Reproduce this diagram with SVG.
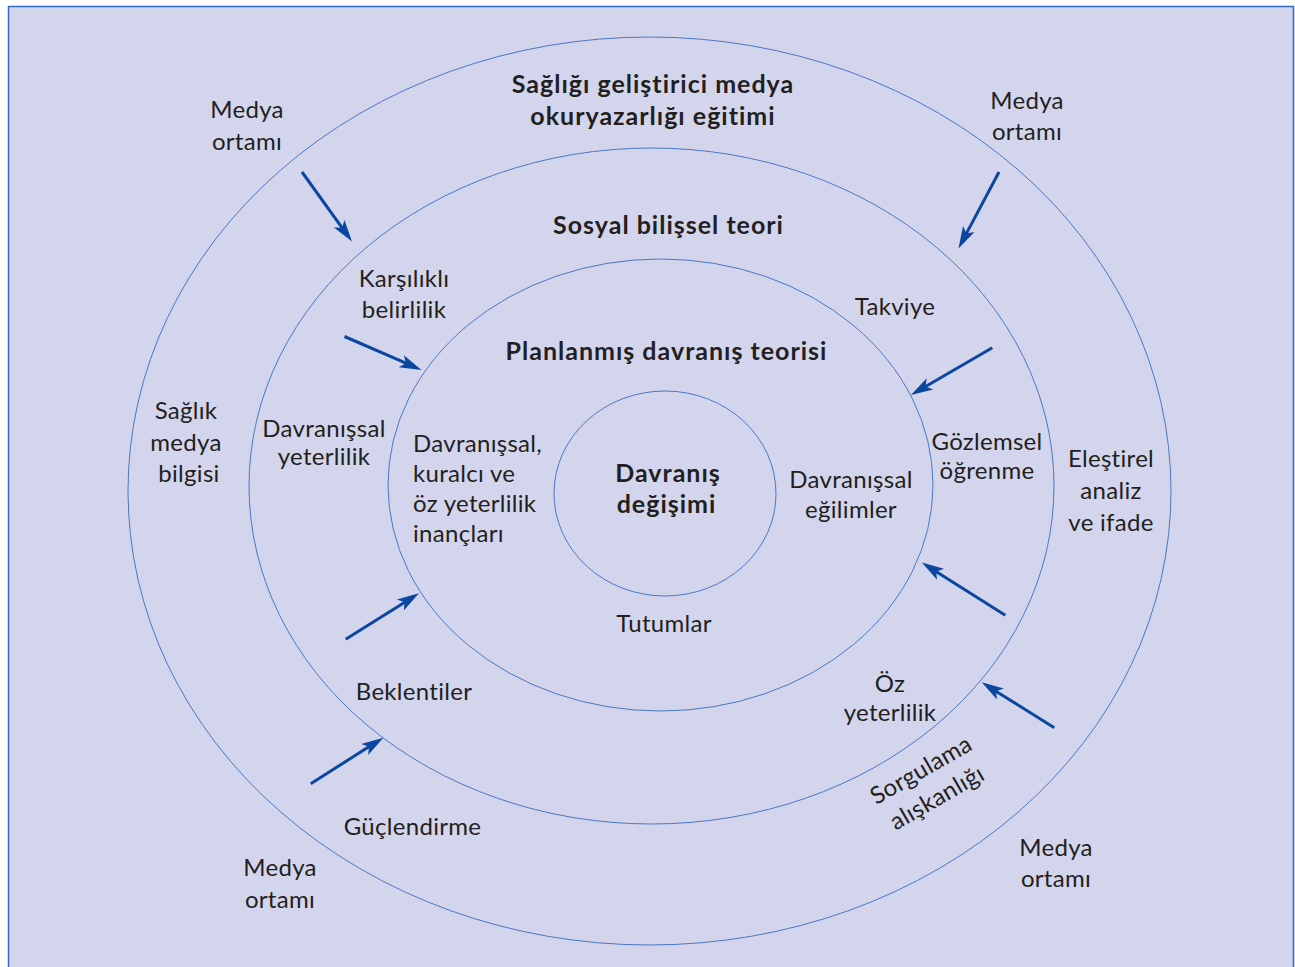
<svg xmlns="http://www.w3.org/2000/svg" width="1295" height="967" viewBox="0 0 1295 967">
<style>
.ring{fill:none;stroke:#4a78c8;stroke-width:1}
.t{font-family:Lato,"Open Sans","Liberation Sans",sans-serif;font-size:24px;letter-spacing:0.3px;fill:#231f20;text-anchor:middle}
.b{font-weight:bold;font-size:25px;letter-spacing:1px}
.l{text-anchor:start}
.arr{stroke:#0b47a1;stroke-width:3;fill:none;marker-end:url(#ah)}
</style>
<defs>
<marker id="ah" markerUnits="userSpaceOnUse" viewBox="-12 -10 26 20" markerWidth="26" markerHeight="20" refX="0" refY="0" orient="auto">
<path d="M12,0 L-10,-6.5 L-5,0 L-10,6.5 Z" fill="#0b47a1"/>
</marker>
</defs>
<rect x="0" y="0" width="1295" height="967" fill="#ffffff"/>
<rect x="8.5" y="6.5" width="1285" height="970" fill="#d3d5ec" stroke="#2f6cc0" stroke-width="1.5"/>
<g id="ring-outer"><ellipse class="ring" cx="649.5" cy="491" rx="521.5" ry="454"/></g>
<g id="ring-sbt"><ellipse class="ring" cx="651.5" cy="486" rx="402.5" ry="338"/></g>
<g id="ring-pdt"><ellipse class="ring" cx="660.5" cy="485" rx="272.5" ry="226"/></g>
<g id="ring-core"><ellipse class="ring" cx="665" cy="493.5" rx="111" ry="102.5"/></g>
<g id="connectors">
<line class="arr" x1="302" y1="172" x2="345" y2="231.8"/>
<line class="arr" x1="999" y1="172" x2="964.1" y2="237.9"/>
<line class="arr" x1="344.5" y1="336.5" x2="410.5" y2="365.2"/>
<line class="arr" x1="992.3" y1="347.7" x2="921.3" y2="389"/>
<line class="arr" x1="1005.3" y1="615.3" x2="932" y2="569"/>
<line class="arr" x1="1054.3" y1="727.7" x2="991.9" y2="688.7"/>
<line class="arr" x1="345.7" y1="639.3" x2="408.8" y2="599.7"/>
<line class="arr" x1="310.7" y1="783.7" x2="373.2" y2="744.1"/>
</g>
<g id="title-outer"><text class="t b" x="653" y="93">Sağlığı geliştirici medya</text><text class="t b" x="653" y="125">okuryazarlığı eğitimi</text></g>
<g id="title-sbt"><text class="t b" x="668.5" y="234">Sosyal bilişsel teori</text></g>
<g id="title-pdt"><text class="t b" x="666.5" y="360">Planlanmış davranış teorisi</text></g>
<g id="core"><text class="t b" x="668" y="482">Davranış</text><text class="t b" x="666.5" y="513">değişimi</text></g>
<g id="medya-tl"><text class="t" x="247" y="118">Medya</text><text class="t" x="247" y="150">ortamı</text></g>
<g id="medya-tr"><text class="t" x="1027" y="109">Medya</text><text class="t" x="1027" y="140">ortamı</text></g>
<g id="medya-br"><text class="t" x="1056" y="856">Medya</text><text class="t" x="1056" y="887">ortamı</text></g>
<g id="medya-bl"><text class="t" x="280" y="876">Medya</text><text class="t" x="280" y="908">ortamı</text></g>
<g id="saglik"><text class="t" x="186" y="419">Sağlık</text><text class="t" x="186" y="451">medya</text><text class="t" x="189" y="482">bilgisi</text></g>
<g id="elestirel"><text class="t" x="1111" y="467">Eleştirel</text><text class="t" x="1111" y="499">analiz</text><text class="t" x="1111" y="531">ve ifade</text></g>
<g id="karsilikli"><text class="t" x="404" y="287">Karşılıklı</text><text class="t" x="404" y="318">belirlilik</text></g>
<g id="takviye"><text class="t" x="895" y="315">Takviye</text></g>
<g id="dav-yet"><text class="t" x="324" y="437">Davranışsal</text><text class="t" x="324" y="465">yeterlilik</text></g>
<g id="inanclar"><text class="t l" x="413" y="452">Davranışsal,</text><text class="t l" x="413" y="482">kuralcı ve</text><text class="t l" x="413" y="512">öz yeterlilik</text><text class="t l" x="413" y="542">inançları</text></g>
<g id="egilimler"><text class="t" x="851" y="488">Davranışsal</text><text class="t" x="851" y="518">eğilimler</text></g>
<g id="gozlemsel"><text class="t" x="987" y="450">Gözlemsel</text><text class="t" x="987" y="479">öğrenme</text></g>
<g id="tutumlar"><text class="t" x="664" y="632">Tutumlar</text></g>
<g id="beklentiler"><text class="t" x="414" y="700">Beklentiler</text></g>
<g id="oz-yet"><text class="t" x="890" y="692">Öz</text><text class="t" x="890" y="721">yeterlilik</text></g>
<g id="guclendirme"><text class="t" x="412.5" y="835">Güçlendirme</text></g>
<g id="sorgulama" transform="translate(925,777) rotate(-30)"><text class="t" x="0" y="0">Sorgulama</text><text class="t" x="0" y="32">alışkanlığı</text></g>
</svg>
